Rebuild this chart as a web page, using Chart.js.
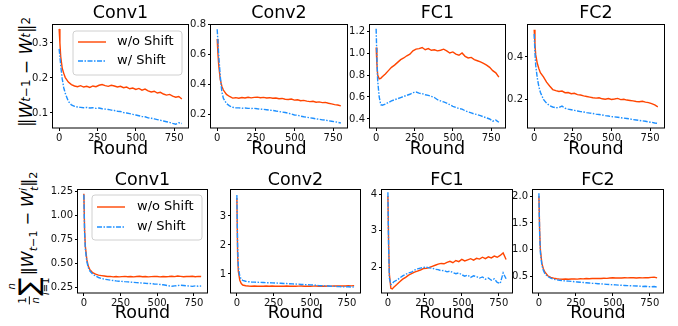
<!DOCTYPE html>
<html>
<head>
<meta charset="utf-8">
<script src="https://cdn.jsdelivr.net/npm/chart.js@4.4.0/dist/chart.umd.min.js"></script>
<style>
  body { margin: 0; background: #fff; width: 678px; height: 326px; position: relative; overflow: hidden; font-family: 'DejaVu Sans'; }
  canvas { position: absolute; }
  .ylab { position: absolute; transform: translate(-50%, -50%) rotate(-90deg); white-space: nowrap;
          font-size: 17px; color: #000; display: flex; align-items: center; line-height: 1; }
  .ylab sub { font-size: 70%; vertical-align: -0.35em; }
  .ylab.sumlab { font-size: 16px; }
  .frac { display: inline-flex; flex-direction: column; align-items: center; font-size: 10px; margin-right: 1px; }
  .fbar { height: 1px; width: 8px; background: #000; margin: 1px 0; }
  .sum { display: inline-flex; flex-direction: column; align-items: center; margin-right: 2px; }
  .lim { font-size: 10px; }
  .sig { font-size: 27px; line-height: 0.9; }
  .ss { display: inline-flex; flex-direction: column; font-size: 11px; line-height: 1; vertical-align: middle; }
</style>
</head>
<body>

<div class="ylab" style="left:26px;top:72px">‖<i>W</i><sub><i>t</i>−1</sub>&nbsp;−&nbsp;<i>W</i><sub><i>t</i></sub>‖<sub>2</sub></div>
<div class="ylab sumlab" style="left:29px;top:238px">
  <span class="frac"><span>1</span><span class="fbar"></span><span><i>n</i></span></span>
  <span class="sum"><span class="lim"><i>n</i></span><span class="sig">∑</span><span class="lim"><i>i</i>=1</span></span>
  <span>‖<i>W</i><sub><i>t</i>−1</sub>&nbsp;−&nbsp;<i>W</i></span><span class="ss"><span><i>i</i></span><span><i>t</i></span></span><span>‖<sub>2</sub></span>
</div>

<script>
// rounds sampled from the curves
const rounds = [0, 5, 10, 20, 30, 40, 60, 80, 100, 120, 140, 160, 180, 200, 220, 240, 260, 280, 300, 320,
  340, 360, 380, 400, 420, 440, 460, 480, 500, 520, 540, 560, 580, 600, 620, 640, 660, 680, 700, 720,
  740, 760, 780, 800];
const xTicks = [0, 250, 500, 750];
const legendLabels = ['w/o Shift', 'w/ Shift'];

// top row: ||W_{t-1} - W_t||_2
const topConv1NoShift = [0.340, 0.300, 0.262, 0.228, 0.213, 0.201, 0.188, 0.181, 0.177, 0.175, 0.178, 0.174, 0.176, 0.173,
  0.177, 0.175, 0.179, 0.181, 0.178, 0.176, 0.179, 0.177, 0.174, 0.176, 0.172, 0.174, 0.169, 0.171, 0.167, 0.170,
  0.165, 0.168, 0.163, 0.160, 0.162, 0.157, 0.159, 0.154, 0.151, 0.153, 0.148, 0.145, 0.147, 0.140];
const topConv1Shift = [0.283, 0.262, 0.236, 0.198, 0.172, 0.156, 0.133, 0.123, 0.119, 0.117, 0.116, 0.115, 0.116, 0.114,
  0.115, 0.113, 0.114, 0.112, 0.111, 0.110, 0.108, 0.107, 0.105, 0.104, 0.101, 0.100, 0.098, 0.096, 0.094, 0.092,
  0.090, 0.089, 0.086, 0.085, 0.083, 0.081, 0.079, 0.077, 0.075, 0.073, 0.070, 0.068, 0.072, 0.070];
const topConv1Ticks = [0.1, 0.2, 0.3];

const topConv2NoShift = [0.700, 0.600, 0.525, 0.430, 0.385, 0.360, 0.331, 0.317, 0.306, 0.309, 0.305, 0.310, 0.307, 0.312,
  0.308, 0.311, 0.313, 0.309, 0.311, 0.307, 0.309, 0.305, 0.307, 0.302, 0.304, 0.299, 0.297, 0.300, 0.293, 0.295,
  0.289, 0.291, 0.286, 0.283, 0.285, 0.279, 0.281, 0.276, 0.278, 0.272, 0.268, 0.263, 0.260, 0.254];
const topConv2Shift = [0.765, 0.680, 0.590, 0.450, 0.350, 0.305, 0.270, 0.255, 0.245, 0.242, 0.241, 0.239, 0.240, 0.238,
  0.237, 0.238, 0.235, 0.233, 0.231, 0.229, 0.226, 0.224, 0.220, 0.217, 0.213, 0.210, 0.206, 0.200, 0.194, 0.192,
  0.186, 0.182, 0.179, 0.175, 0.172, 0.168, 0.165, 0.161, 0.160, 0.155, 0.152, 0.149, 0.145, 0.140];
const topConv2Ticks = [0.2, 0.4, 0.6, 0.8];

const topFc1NoShift = [1.05, 0.90, 0.80, 0.765, 0.77, 0.785, 0.81, 0.84, 0.87, 0.89, 0.915, 0.94, 0.955, 0.975,
  0.99, 1.02, 1.035, 1.04, 1.05, 1.03, 1.04, 1.025, 1.03, 1.02, 1.025, 1.035, 1.02, 1.00, 1.01, 0.99,
  0.98, 1.00, 0.97, 0.955, 0.96, 0.94, 0.93, 0.92, 0.905, 0.89, 0.87, 0.84, 0.82, 0.78];
const topFc1Shift = [1.22, 0.95, 0.75, 0.60, 0.53, 0.525, 0.535, 0.55, 0.565, 0.575, 0.585, 0.595, 0.605, 0.615,
  0.625, 0.64, 0.645, 0.635, 0.63, 0.62, 0.615, 0.605, 0.595, 0.575, 0.565, 0.555, 0.545, 0.53, 0.515, 0.505,
  0.495, 0.49, 0.475, 0.465, 0.455, 0.445, 0.44, 0.43, 0.42, 0.41, 0.40, 0.38, 0.39, 0.37];
const topFc1Ticks = [0.4, 0.6, 0.8, 1.0, 1.2];

const topFc2NoShift = [0.530, 0.460, 0.410, 0.370, 0.345, 0.325, 0.305, 0.280, 0.262, 0.245, 0.240, 0.236, 0.238, 0.230,
  0.231, 0.225, 0.227, 0.221, 0.219, 0.215, 0.212, 0.209, 0.206, 0.204, 0.206, 0.201, 0.199, 0.202, 0.198, 0.200,
  0.203, 0.197, 0.199, 0.195, 0.193, 0.191, 0.188, 0.187, 0.189, 0.185, 0.183, 0.178, 0.172, 0.163];
const topFc2Shift = [0.510, 0.420, 0.360, 0.300, 0.260, 0.232, 0.198, 0.180, 0.168, 0.162, 0.158, 0.160, 0.166, 0.156,
  0.152, 0.149, 0.146, 0.143, 0.140, 0.138, 0.135, 0.133, 0.131, 0.128, 0.126, 0.124, 0.121, 0.119, 0.116, 0.115,
  0.113, 0.111, 0.109, 0.107, 0.105, 0.102, 0.100, 0.098, 0.096, 0.094, 0.091, 0.089, 0.086, 0.084];
const topFc2Ticks = [0.2, 0.4];

// bottom row: (1/n) sum_i ||W_{t-1} - W_t^i||_2
const botConv1NoShift = [1.23, 0.85, 0.68, 0.54, 0.47, 0.435, 0.40, 0.385, 0.375, 0.37, 0.365, 0.36, 0.362, 0.357,
  0.36, 0.356, 0.359, 0.362, 0.358, 0.361, 0.357, 0.36, 0.363, 0.358, 0.36, 0.356, 0.359, 0.362, 0.36, 0.357,
  0.361, 0.358, 0.36, 0.363, 0.359, 0.366, 0.362, 0.358, 0.361, 0.36, 0.363, 0.358, 0.362, 0.36];
const botConv1Shift = [1.22, 0.82, 0.65, 0.52, 0.455, 0.42, 0.385, 0.365, 0.35, 0.34, 0.332, 0.327, 0.322, 0.318,
  0.314, 0.311, 0.309, 0.306, 0.304, 0.301, 0.299, 0.296, 0.294, 0.292, 0.289, 0.287, 0.285, 0.282, 0.28, 0.277,
  0.273, 0.268, 0.262, 0.258, 0.262, 0.265, 0.268, 0.266, 0.262, 0.26, 0.257, 0.262, 0.258, 0.26];
const botConv1Ticks = [0.25, 0.5, 0.75, 1.0, 1.25];

const botConv2NoShift = [3.62, 1.70, 1.10, 0.78, 0.67, 0.62, 0.595, 0.585, 0.58, 0.585, 0.578, 0.582, 0.576, 0.584,
  0.579, 0.586, 0.58, 0.577, 0.583, 0.579, 0.585, 0.578, 0.582, 0.576, 0.581, 0.584, 0.579, 0.583, 0.577, 0.582,
  0.586, 0.58, 0.584, 0.578, 0.588, 0.582, 0.586, 0.59, 0.584, 0.592, 0.588, 0.595, 0.59, 0.60];
const botConv2Shift = [3.72, 2.00, 1.25, 0.92, 0.82, 0.78, 0.75, 0.735, 0.725, 0.72, 0.715, 0.71, 0.705, 0.70,
  0.70, 0.695, 0.69, 0.685, 0.68, 0.675, 0.67, 0.665, 0.66, 0.655, 0.65, 0.64, 0.635, 0.63, 0.625, 0.62,
  0.61, 0.60, 0.595, 0.59, 0.585, 0.58, 0.575, 0.57, 0.565, 0.56, 0.555, 0.56, 0.55, 0.555];
const botConv2Ticks = [1, 2, 3];

const botFc1NoShift = [3.95, 2.60, 1.80, 1.42, 1.40, 1.45, 1.52, 1.60, 1.67, 1.72, 1.78, 1.82, 1.86, 1.89,
  1.92, 1.96, 1.97, 1.99, 2.02, 2.05, 2.08, 2.10, 2.09, 2.13, 2.16, 2.12, 2.18, 2.15, 2.21, 2.17,
  2.20, 2.23, 2.19, 2.24, 2.22, 2.27, 2.23, 2.28, 2.25, 2.30, 2.27, 2.32, 2.39, 2.21];
const botFc1Shift = [4.05, 2.50, 1.70, 1.52, 1.55, 1.60, 1.64, 1.70, 1.76, 1.80, 1.84, 1.86, 1.92, 1.95,
  1.97, 1.99, 2.00, 1.98, 1.97, 1.94, 1.93, 1.90, 1.91, 1.87, 1.89, 1.85, 1.82, 1.84, 1.79, 1.75,
  1.78, 1.72, 1.76, 1.74, 1.70, 1.73, 1.67, 1.70, 1.64, 1.68, 1.58, 1.55, 1.84, 1.68];
const botFc1Ticks = [2, 3, 4];

const botFc2NoShift = [2.00, 1.35, 1.00, 0.75, 0.65, 0.59, 0.52, 0.49, 0.475, 0.465, 0.458, 0.455, 0.46, 0.455,
  0.46, 0.462, 0.458, 0.465, 0.463, 0.468, 0.465, 0.47, 0.468, 0.472, 0.47, 0.475, 0.472, 0.478, 0.482, 0.478,
  0.48, 0.478, 0.482, 0.48, 0.485, 0.482, 0.478, 0.483, 0.48, 0.485, 0.483, 0.49, 0.495, 0.48];
const botFc2Shift = [2.05, 1.30, 0.95, 0.72, 0.62, 0.56, 0.505, 0.475, 0.455, 0.445, 0.435, 0.43, 0.425, 0.42,
  0.415, 0.41, 0.405, 0.40, 0.395, 0.39, 0.385, 0.38, 0.378, 0.372, 0.37, 0.365, 0.36, 0.357, 0.353, 0.35,
  0.347, 0.343, 0.34, 0.337, 0.335, 0.332, 0.33, 0.327, 0.322, 0.325, 0.318, 0.315, 0.32, 0.31];
const botFc2Ticks = [0.5, 1.0, 1.5, 2.0];

const ORANGE = '#ff4500';
const BLUE = '#1e90ff';
const FONT = 'DejaVu Sans';

// frame around the plot area + the legend box
const frameLegend = {
  id: 'frameLegend',
  afterDatasetsDraw(chart, args, opts) {
    const ctx = chart.ctx;
    const a = chart.chartArea;
    ctx.save();
    ctx.strokeStyle = '#000';
    ctx.lineWidth = 1;
    ctx.strokeRect(a.left - 0.5, a.top + 0.5, a.width + 1, a.height - 0.5);
    if (opts.show) {
      const x = a.left + opts.dx, y = a.top + opts.dy, w = opts.w, h = opts.h, r = 3;
      ctx.beginPath();
      ctx.moveTo(x + r, y);
      ctx.arcTo(x + w, y, x + w, y + h, r);
      ctx.arcTo(x + w, y + h, x, y + h, r);
      ctx.arcTo(x, y + h, x, y, r);
      ctx.arcTo(x, y, x + w, y, r);
      ctx.closePath();
      ctx.fillStyle = 'rgba(255,255,255,0.8)';
      ctx.fill();
      ctx.strokeStyle = '#d0d0d0';
      ctx.stroke();
      const colors = [ORANGE, BLUE];
      const dashes = [[], [5, 1.5, 1.5, 1.5]];
      ctx.font = '13px "' + FONT + '"';
      ctx.textBaseline = 'middle';
      legendLabels.forEach(function(label, i) {
        const ly = y + opts.rows[i];
        ctx.beginPath();
        ctx.setLineDash(dashes[i]);
        ctx.strokeStyle = colors[i];
        ctx.lineWidth = 1.4;
        ctx.moveTo(x + 5, ly);
        ctx.lineTo(x + 33, ly);
        ctx.stroke();
        ctx.setLineDash([]);
        ctx.fillStyle = '#000';
        ctx.fillText(label, x + opts.textX, ly);
      });
    }
    ctx.restore();
  }
};

function makePanel(p) {
  const canvas = document.createElement('canvas');
  const yW = 32, rightPad = 6;
  const left = p.box[0] - yW;
  const width = p.box[2] - p.box[0] + yW + rightPad;
  const height = p.row.bottom - p.row.top;
  canvas.width = width;
  canvas.height = height;
  canvas.style.left = left + 'px';
  canvas.style.top = p.row.top + 'px';
  document.body.appendChild(canvas);

  const titleBlock = p.box[1] - p.row.top;
  const xAxisH = p.row.bottom - p.box[3];

  new Chart(canvas, {
    type: 'line',
    data: {
      datasets: [
        { label: legendLabels[0], data: rounds.map((r, i) => ({ x: r, y: p.noShift[i] })),
          borderColor: ORANGE, borderWidth: 1.4, pointRadius: 0, tension: 0, order: 1 },
        { label: legendLabels[1], data: rounds.map((r, i) => ({ x: r, y: p.shift[i] })),
          borderColor: BLUE, borderWidth: 1.4, pointRadius: 0, tension: 0, order: 0,
          borderDash: [5, 1.5, 1.5, 1.5] }
      ]
    },
    options: {
      responsive: false,
      animation: false,
      devicePixelRatio: 1,
      layout: { padding: { left: 0, right: rightPad, top: 0, bottom: 0 } },
      plugins: {
        legend: { display: false },
        tooltip: { enabled: false },
        title: {
          display: true, text: p.title, color: '#000', fullSize: false,
          font: { family: FONT, size: 17.5, weight: 'normal', lineHeight: 1 },
          padding: { top: p.row.titleTop, bottom: titleBlock - 17.5 - p.row.titleTop }
        },
        frameLegend: p.legend || { show: false }
      },
      scales: {
        x: {
          type: 'linear', min: -40, max: 840,
          afterBuildTicks: s => { s.ticks = xTicks.map(v => ({ value: v })); },
          afterFit: s => { s.height = xAxisH; },
          border: { display: false },
          grid: { drawOnChartArea: false, drawTicks: true, tickLength: 3, tickColor: '#000', tickWidth: 1 },
          ticks: { autoSkip: false, maxRotation: 0, padding: 1, color: '#111', font: { family: FONT, size: 10 } },
          title: { display: true, text: 'Round', color: '#000',
                   font: { family: FONT, size: 17.5, lineHeight: 1 },
                   padding: { top: 0, bottom: p.row.roundPad } }
        },
        y: {
          type: 'linear', min: p.yMin, max: p.yMax,
          afterBuildTicks: s => { s.ticks = p.yTicks.map(v => ({ value: v })); },
          afterFit: s => { s.width = yW; },
          border: { display: false },
          grid: { drawOnChartArea: false, drawTicks: true, tickLength: 3, tickColor: '#000', tickWidth: 1 },
          ticks: { padding: 2, color: '#111', font: { family: FONT, size: 10 },
                   callback: v => Number(v).toFixed(p.dec) }
        }
      }
    },
    plugins: [frameLegend]
  });
}

const topRow = { top: 0, bottom: 162, titleTop: 5, roundPad: 3.5 };
const botRow = { top: 162, bottom: 326, titleTop: 9.5, roundPad: 3.5 };

const panels = [
  { title: 'Conv1', row: topRow, box: [53, 24, 188, 128], noShift: topConv1NoShift, shift: topConv1Shift,
    yMin: 0.057, yMax: 0.354, yTicks: topConv1Ticks, dec: 1,
    legend: { show: true, dx: 20, dy: 7, w: 109, h: 44, rows: [11, 30], textX: 44 } },
  { title: 'Conv2', row: topRow, box: [211, 24, 347, 128], noShift: topConv2NoShift, shift: topConv2Shift,
    yMin: 0.107, yMax: 0.80, yTicks: topConv2Ticks, dec: 1 },
  { title: 'FC1', row: topRow, box: [370, 24, 505, 128], noShift: topFc1NoShift, shift: topFc1Shift,
    yMin: 0.318, yMax: 1.264, yTicks: topFc1Ticks, dec: 1 },
  { title: 'FC2', row: topRow, box: [528, 24, 664, 128], noShift: topFc2NoShift, shift: topFc2Shift,
    yMin: 0.062, yMax: 0.557, yTicks: topFc2Ticks, dec: 1 },
  { title: 'Conv1', row: botRow, box: [78, 189, 207, 293], noShift: botConv1NoShift, shift: botConv1Shift,
    yMin: 0.187, yMax: 1.28, yTicks: botConv1Ticks, dec: 2,
    legend: { show: true, dx: 14, dy: 6, w: 110, h: 45, rows: [12, 32], textX: 45 } },
  { title: 'Conv2', row: botRow, box: [231, 189, 360, 293], noShift: botConv2NoShift, shift: botConv2Shift,
    yMin: 0.345, yMax: 3.93, yTicks: botConv2Ticks, dec: 0 },
  { title: 'FC1', row: botRow, box: [382, 189, 512, 293], noShift: botFc1NoShift, shift: botFc1Shift,
    yMin: 1.29, yMax: 4.14, yTicks: botFc1Ticks, dec: 0 },
  { title: 'FC2', row: botRow, box: [533, 189, 663, 293], noShift: botFc2NoShift, shift: botFc2Shift,
    yMin: 0.2, yMax: 2.13, yTicks: botFc2Ticks, dec: 1 }
];

panels.forEach(makePanel);
</script>
</body>
</html>
